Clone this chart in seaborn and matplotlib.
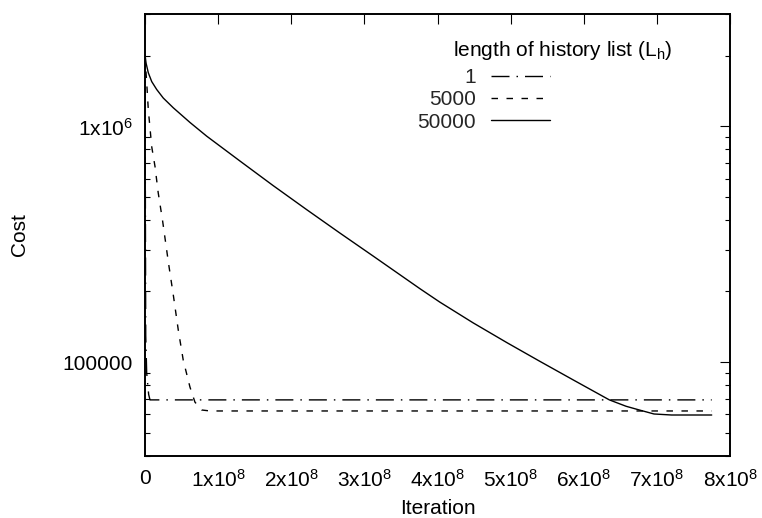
import matplotlib
matplotlib.use("Agg")
import matplotlib.pyplot as plt
import matplotlib.ticker as mticker
import numpy as np
import pandas as pd
import seaborn as sns

# ---- data ----
series_labels = ["1", "5000", "50000"]
legend_title = "length of history list (L$_h$)"

x_L1 = [0.0, 0.01e8, 0.023e8, 0.05e8, 0.068e8, 7.75e8]
y_L1 = [1.98e6, 1.3e5, 9.0e4, 7.3e4, 6.92e4, 6.92e4]

x_L5000 = [0.0, 0.023e8, 0.045e8, 0.092e8, 0.137e8, 0.18e8, 0.24e8, 0.32e8,
           0.39e8, 0.455e8, 0.523e8, 0.615e8, 0.683e8, 0.775e8, 0.89e8, 7.75e8]
y_L5000 = [1.98e6, 1.54e6, 1.18e6, 8.2e5, 6.76e5, 5.25e5, 3.99e5, 2.65e5,
           1.90e5, 1.37e5, 1.02e5, 7.84e4, 6.77e4, 6.27e4, 6.21e4, 6.21e4]

x_L50000 = [0.0, 0.014e8, 0.045e8, 0.092e8, 0.16e8, 0.25e8, 0.387e8, 0.615e8,
            0.843e8, 1.30e8, 1.75e8, 2.21e8, 2.66e8, 3.12e8, 3.76e8, 4.03e8,
            4.485e8, 4.95e8, 5.396e8, 5.85e8, 6.35e8, 6.58e8, 6.76e8, 6.96e8,
            7.2e8, 7.75e8]
y_L50000 = [2.02e6, 1.86e6, 1.69e6, 1.55e6, 1.435e6, 1.32e6, 1.2e6, 1.04e6,
            9.1e5, 7.13e5, 5.62e5, 4.44e5, 3.54e5, 2.82e5, 2.05e5, 1.80e5,
            1.47e5, 1.21e5, 1.01e5, 8.43e4, 6.92e4, 6.5e4, 6.27e4, 6.03e4,
            5.97e4, 5.97e4]

x_ticks = [0, 1e8, 2e8, 3e8, 4e8, 5e8, 6e8, 7e8, 8e8]
x_ticklabels = ["0", "1x10$^{8}$", "2x10$^{8}$", "3x10$^{8}$", "4x10$^{8}$",
                "5x10$^{8}$", "6x10$^{8}$", "7x10$^{8}$", "8x10$^{8}$"]
y_ticks = [1e5, 1e6]
y_ticklabels = ["100000", "1x10$^{6}$"]

frames = []
for lab, xs, ys in zip(series_labels, [x_L1, x_L5000, x_L50000],
                       [y_L1, y_L5000, y_L50000]):
    frames.append(pd.DataFrame({"Iteration": xs, "Cost": ys, "Lh": lab}))
df = pd.concat(frames, ignore_index=True)

# ---- style ----
sns.set_theme(style="white")
plt.rcParams["font.family"] = ["Liberation Sans", "DejaVu Sans"]
plt.rcParams["mathtext.fontset"] = "custom"
plt.rcParams["mathtext.rm"] = "Liberation Sans"
plt.rcParams["mathtext.it"] = "Liberation Sans:italic"
plt.rcParams["mathtext.default"] = "regular"

FS = 15

fig = plt.figure(figsize=(7.62, 5.18), dpi=100)
ax = fig.add_axes([145 / 762, 62 / 518, (730 - 145) / 762, (456 - 14) / 518])

lw = 1.0
dashes = {"1": (18 * 0.72 / lw, 7 * 0.72 / lw, 1.5 * 0.72 / lw, 7 * 0.72 / lw),
          "5000": (6.5 * 0.72 / lw, 8.5 * 0.72 / lw),
          "50000": ""}
sns.lineplot(data=df, x="Iteration", y="Cost", hue="Lh", style="Lh",
             palette={k: "black" for k in series_labels}, dashes=dashes,
             hue_order=series_labels, style_order=series_labels,
             sort=False, estimator=None, linewidth=lw, ax=ax, legend=True)

ax.set_yscale("log")
ax.set_xlim(0, 8e8)
ax.set_ylim(4e4, 3e6)

ax.set_xticks(x_ticks)
ax.set_xticklabels(x_ticklabels, fontsize=FS)
ax.set_yticks(y_ticks)
ax.set_yticklabels(y_ticklabels, fontsize=FS)
ax.yaxis.set_minor_locator(mticker.LogLocator(base=10, subs=np.arange(2, 10)))
ax.yaxis.set_minor_formatter(mticker.NullFormatter())
ax.xaxis.set_minor_locator(mticker.NullLocator())

ax.tick_params(axis="x", which="major", pad=9)
ax.tick_params(axis="y", which="major", pad=9)
ax.tick_params(axis="both", which="major", direction="in", length=7, width=0.8,
               top=True, right=True, colors="black")
ax.tick_params(axis="both", which="minor", direction="in", length=3.5, width=0.8,
               top=True, right=True, left=True, colors="black")

for s in ax.spines.values():
    s.set_visible(True)
    s.set_color("black")
    s.set_linewidth(1.4)

ax.set_xlabel("Iteration", fontsize=FS, color="black", labelpad=6)
ax.set_ylabel("Cost", fontsize=FS, color="black", labelpad=24)
ax.grid(False)

handles, labels = ax.get_legend_handles_labels()
ax.get_legend().remove()
leg = ax.legend(handles, labels, markerfirst=False, frameon=False, fontsize=FS,
                loc="upper left", bbox_to_anchor=(417 / 762, (518 - 68) / 518),
                bbox_transform=fig.transFigure, handlelength=2.8,
                labelspacing=0.16, handletextpad=0.75, borderpad=0,
                borderaxespad=0)
fig.text(563 / 762, (518 - 50) / 518, legend_title, fontsize=FS,
         ha="center", va="center", color="black")

fig.savefig("out.png", dpi=100, facecolor="white")
